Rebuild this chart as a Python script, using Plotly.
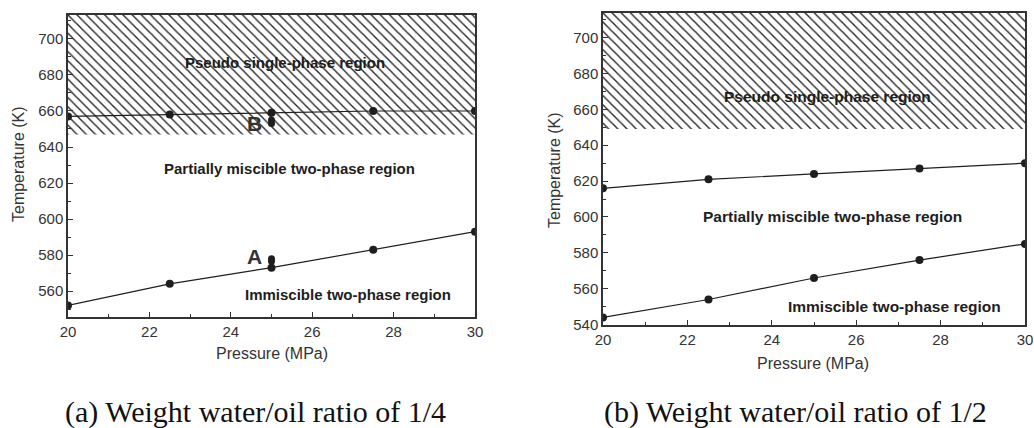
import plotly.graph_objects as go

# ---------------- data ----------------
pressure = [20, 22.5, 25, 27.5, 30]

# (a) weight water/oil ratio 1/4
a_upper = [657, 658, 659, 660, 660]
a_lower = [552, 564, 573, 583, 593]
a_extra_p = [25, 25, 25, 25]
a_extra_t = [655, 653, 578, 576.5]
a_hatch_bottom = 647

# (b) weight water/oil ratio 1/2
b_upper = [616, 621, 624, 627, 630]
b_lower = [544, 554, 566, 576, 585]
b_hatch_bottom = 649

x_ticks = [20, 22, 24, 26, 28, 30]
a_y_ticks = [560, 580, 600, 620, 640, 660, 680, 700]
b_y_ticks = [540, 560, 580, 600, 620, 640, 660, 680, 700]

a_yrange = [545.6, 713.3]
b_yrange = [539.8, 713.7]

region_labels = ["Pseudo single-phase region",
                 "Partially miscible two-phase region",
                 "Immiscible two-phase region"]
a_label_pos = [(25.33, 687), (25.43, 628), (26.88, 558)]
b_label_pos = [(25.33, 667), (25.44, 600), (26.9, 550)]
point_labels = ["B", "A"]
point_label_pos = [(24.57, 653), (24.57, 579)]

captions = ["(a) Weight water/oil ratio of 1/4", "(b) Weight water/oil ratio of 1/2"]

# ---------------- styles ----------------
INK = "#1e1e1e"
AXC = "#333333"
SANS = "Liberation Sans, Arial, sans-serif"
SERIF = "Liberation Serif, Times New Roman, serif"
W, H = 1034, 428

fig = go.Figure()


def hatch(xa, ya, bottom, top):
    fig.add_trace(go.Scatter(
        x=[20, 30, 30, 20, 20], y=[bottom, bottom, top, top, bottom],
        xaxis=xa, yaxis=ya, mode="lines", line=dict(width=0, color="rgba(0,0,0,0)"),
        fill="toself", fillcolor="white",
        fillpattern=dict(shape="\\", size=6.5, solidity=0.22, fgcolor="#2a2a2a",
                         bgcolor="white", fillmode="replace"),
        hoverinfo="skip", showlegend=False))


def curve(xa, ya, xs, ys):
    fig.add_trace(go.Scatter(
        x=xs, y=ys, xaxis=xa, yaxis=ya, mode="lines+markers",
        line=dict(color=INK, width=1.2),
        marker=dict(color=INK, size=8, symbol="circle"),
        showlegend=False))


hatch("x", "y", a_hatch_bottom, 720)
curve("x", "y", pressure, a_upper)
curve("x", "y", pressure, a_lower)
fig.add_trace(go.Scatter(x=a_extra_p, y=a_extra_t, xaxis="x", yaxis="y", mode="markers",
                         marker=dict(color=INK, size=7), showlegend=False))

hatch("x2", "y2", b_hatch_bottom, 720)
curve("x2", "y2", pressure, b_upper)
curve("x2", "y2", pressure, b_lower)

C = dict(xanchor="center", yanchor="middle", showarrow=False)
annotations = []
for txt, (px, ty) in zip(region_labels, a_label_pos):
    annotations.append(dict(x=px, y=ty, xref="x", yref="y", text=f"<b>{txt}</b>",
                            font=dict(family=SANS, size=15, color=INK), **C))
for txt, (px, ty) in zip(region_labels, b_label_pos):
    annotations.append(dict(x=px, y=ty, xref="x2", yref="y2", text=f"<b>{txt}</b>",
                            font=dict(family=SANS, size=15.5, color=INK), **C))
for txt, (px, ty) in zip(point_labels, point_label_pos):
    annotations.append(dict(x=px, y=ty, xref="x", yref="y", text=f"<b>{txt}</b>",
                            font=dict(family=SANS, size=21, color="#333"), **C))

# axis titles
annotations += [
    dict(x=272 / W, y=1 - 353 / H, xref="paper", yref="paper", text="Pressure (MPa)",
         font=dict(family=SANS, size=16, color="#333"), **C),
    dict(x=813 / W, y=1 - 363 / H, xref="paper", yref="paper", text="Pressure (MPa)",
         font=dict(family=SANS, size=16, color="#333"), **C),
    dict(x=19 / W, y=1 - 164 / H, xref="paper", yref="paper", text="Temperature (K)",
         textangle=-90, font=dict(family=SANS, size=16, color="#333"), **C),
    dict(x=554 / W, y=1 - 170 / H, xref="paper", yref="paper", text="Temperature (K)",
         textangle=-90, font=dict(family=SANS, size=16, color="#333"), **C),
]
for txt, cx in zip(captions, [255, 795]):
    annotations.append(dict(x=cx / W, y=1 - 412 / H, xref="paper", yref="paper",
                            text=txt, font=dict(family=SERIF, size=30, color="#111"), **C))

axis_common = dict(showline=True, mirror=True, linecolor=AXC, linewidth=1.5,
                   ticks="inside", ticklen=5, tickwidth=1.2, tickcolor=AXC,
                   showgrid=False, zeroline=False, automargin=False,
                   tickfont=dict(family=SANS, size=15, color="#333"))

fig.update_layout(
    width=W, height=H,
    margin=dict(l=0, r=0, t=0, b=0, pad=0, autoexpand=False),
    paper_bgcolor="white", plot_bgcolor="white",
    showlegend=False,
    xaxis=dict(domain=[68 / W, 475 / W], range=[20, 30], tickvals=x_ticks,
               minor=dict(ticks="inside", ticklen=3, dtick=1, tickcolor=AXC),
               anchor="y", **axis_common),
    yaxis=dict(domain=[1 - 317 / H, 1 - 15 / H], range=a_yrange, tickvals=a_y_ticks,
               minor=dict(ticks="inside", ticklen=3, dtick=10, tickcolor=AXC),
               anchor="x", **axis_common),
    xaxis2=dict(domain=[603 / W, 1025 / W], range=[20, 30], tickvals=x_ticks,
                minor=dict(ticks="inside", ticklen=3, dtick=1, tickcolor=AXC),
                anchor="y2", **axis_common),
    yaxis2=dict(domain=[1 - 325 / H, 1 - 13 / H], range=b_yrange, tickvals=b_y_ticks,
                minor=dict(ticks="inside", ticklen=3, dtick=10, tickcolor=AXC),
                anchor="x2", **axis_common),
    annotations=annotations,
)

fig.write_html("out.html")
